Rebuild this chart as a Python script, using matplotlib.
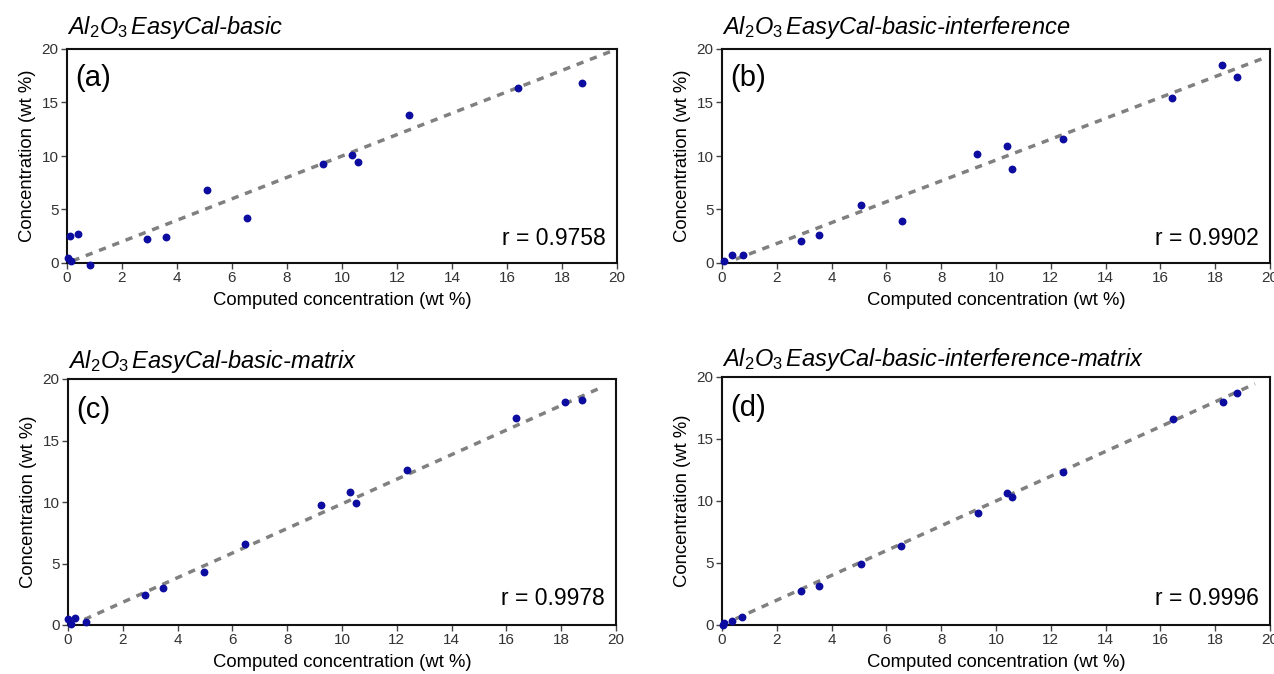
import numpy as np
import matplotlib
matplotlib.use("Agg")
import matplotlib.pyplot as plt

plt.rcParams["font.family"] = ["Liberation Sans", "DejaVu Sans"]
plt.rcParams["mathtext.fontset"] = "custom"
plt.rcParams["mathtext.rm"] = "Liberation Sans"
plt.rcParams["mathtext.it"] = "Liberation Sans:italic"

# --- data ------------------------------------------------------------------
titles = ["EasyCal-basic", "EasyCal-basic-interference",
          "EasyCal-basic-matrix", "EasyCal-basic-interference-matrix"]
panel_tags = ["(a)", "(b)", "(c)", "(d)"]
r_values = ["0.9758", "0.9902", "0.9978", "0.9996"]

x_a = [0.1, 0.4, 0.05, 0.15, 0.82, 2.9, 3.6, 5.08, 6.55, 9.3, 10.35, 10.57, 12.43, 16.39, 18.74]
y_a = [2.55, 2.7, 0.47, 0.2, -0.16, 2.2, 2.4, 6.85, 4.2, 9.25, 10.06, 9.44, 13.86, 16.35, 16.82]

x_b = [0.07, 0.37, 0.78, 2.87, 3.54, 5.08, 6.56, 9.31, 10.39, 10.58, 12.45, 16.43, 18.23, 18.79]
y_b = [0.16, 0.72, 0.72, 2.04, 2.64, 5.46, 3.96, 10.2, 10.9, 8.76, 11.58, 15.45, 18.52, 17.42]

x_c = [0.0, 0.1, 0.27, 0.67, 2.8, 3.45, 4.98, 6.47, 9.25, 10.29, 10.51, 12.39, 16.36, 18.14, 18.77]
y_c = [0.49, 0.08, 0.54, 0.22, 2.43, 2.97, 4.27, 6.57, 9.78, 10.81, 9.89, 12.57, 16.84, 18.16, 18.32]

x_d = [0.04, 0.07, 0.37, 0.74, 2.87, 3.54, 5.06, 6.53, 9.33, 10.39, 10.58, 12.45, 16.46, 18.27, 18.79]
y_d = [0.0, 0.19, 0.35, 0.67, 2.78, 3.15, 4.93, 6.39, 9.03, 10.65, 10.3, 12.32, 16.58, 18.0, 18.68]

# fitted lines: slope, intercept, x range
fit_slope = [1.0, 0.975, 1.0, 1.0]
fit_icpt = [0.0, -0.13, -0.15, 0.0]
fit_x0 = [0.2, 0.5, 0.6, 0.5]
fit_x1 = [19.8, 19.7, 19.4, 19.45]

xs = [x_a, x_b, x_c, x_d]
ys = [y_a, y_b, y_c, y_d]

# --- layout (pixels of a 1274x674 figure) ---------------------------------
W, H = 1274, 674
boxes = [(67, 49, 617, 263), (722, 49, 1270, 263),
         (68, 379, 616, 625), (722, 377, 1270, 625)]
title_pad = [11, 11, 8, 8]

fig = plt.figure(figsize=(W / 100, H / 100), dpi=100)

for i in range(4):
    l, t, r, b = boxes[i]
    ax = fig.add_axes([l / W, 1 - b / H, (r - l) / W, (b - t) / H])

    xf = np.array([fit_x0[i], fit_x1[i]])
    ax.plot(xf, fit_slope[i] * xf + fit_icpt[i], color="#808080", lw=2.5,
            ls=(0, (2.1, 2.0)), zorder=2)
    ax.scatter(xs[i], ys[i], s=32, color="#0c0ca0", linewidths=0, zorder=3,
               clip_on=False)

    ax.set_xlim(0, 20)
    ax.set_ylim(0, 20)
    ax.set_xticks(np.arange(0, 21, 2))
    ax.set_yticks(np.arange(0, 21, 5))
    ax.tick_params(direction="out", length=4, width=1, color="#444444",
                   labelsize=11, labelcolor="#333333", pad=2)
    for s in ax.spines.values():
        s.set_linewidth(1.5)
        s.set_color("#111111")

    ax.set_xlabel("Computed concentration (wt %)", fontsize=13.3, labelpad=5)
    ax.set_ylabel("Concentration (wt %)", fontsize=13.3, labelpad=4)
    ax.set_title(r"$Al_2O_3\,$" + titles[i], loc="left", style="italic",
                 fontsize=17, pad=title_pad[i])

    ax.text(0.015, 0.93, panel_tags[i], transform=ax.transAxes, fontsize=21,
            va="top", ha="left")
    ax.text(0.98, 0.06, "r = " + r_values[i], transform=ax.transAxes,
            fontsize=16.5, va="bottom", ha="right")

fig.savefig("out.png", dpi=100)
